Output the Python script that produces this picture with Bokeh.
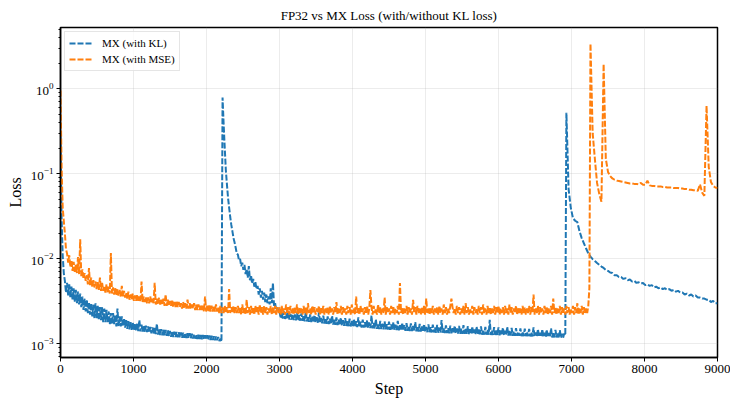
from bokeh.plotting import figure
from bokeh.models import Range1d, Legend, LegendItem, LogTicker, FixedTicker
from bokeh.embed import file_html
from bokeh.resources import INLINE

# logged steps: every 15 steps while noisy, every 30 steps after the last jump
kl_steps = list(range(0, 6916, 15)) + list(range(6930, 9001, 30))
mse_steps = list(range(0, 7246, 15)) + list(range(7260, 9001, 30))

# MX (with KL) loss
kl_loss = [
    0.30, 0.030, 0.011, 0.0068, 0.0055, 0.0040, 0.0052, 0.0037, 0.0050, 0.0035, 0.0047, 0.0033, 0.0045, 0.0031, 0.0043, 0.0030, 0.0041, 0.0029, 0.0039, 0.0027,
    0.0036, 0.0025, 0.0034, 0.0024, 0.0033, 0.0023, 0.0031, 0.0022, 0.0030, 0.0021, 0.0029, 0.0020, 0.0030, 0.0020, 0.0028, 0.0019, 0.0027, 0.0019, 0.0027, 0.0018,
    0.0026, 0.0018, 0.0025, 0.0018, 0.0024, 0.0017, 0.0023, 0.0017, 0.0023, 0.0017, 0.0022, 0.0016, 0.0026, 0.0016, 0.0021, 0.0016, 0.0021, 0.0016, 0.0020, 0.00155,
    0.0019, 0.00150, 0.00185, 0.00148, 0.00180, 0.00146, 0.00178, 0.00144, 0.00175, 0.00143, 0.00172, 0.00141, 0.00190, 0.00140, 0.00168, 0.00139, 0.00165, 0.00138, 0.00163, 0.00137,
    0.00160, 0.00135, 0.00158, 0.00133, 0.00156, 0.00131, 0.00154, 0.00130, 0.00172, 0.00128, 0.00150, 0.00127, 0.00149, 0.00126, 0.00147, 0.00125, 0.00146, 0.00124, 0.00145, 0.00123,
    0.00142, 0.00121, 0.00141, 0.00120, 0.00139, 0.00120, 0.00138, 0.00119, 0.00137, 0.00119, 0.00136, 0.00118, 0.00135, 0.00118, 0.00134, 0.00117, 0.00133, 0.00117, 0.00133, 0.00116,
    0.00131, 0.00115, 0.00130, 0.00115, 0.00129, 0.00114, 0.00128, 0.00114, 0.00127, 0.00113, 0.00127, 0.00113, 0.00126, 0.00112, 0.00126, 0.00112, 0.00125, 0.00111, 0.00124, 0.00111,
    0.00123, 0.00110, 0.00122, 0.00110, 0.00120, 0.00108, 0.00115, 0.00106, 0.79, 0.38, 0.20, 0.11, 0.075, 0.052, 0.040, 0.031, 0.025, 0.021, 0.0175, 0.0155,
    0.0135, 0.0115, 0.0112, 0.0096, 0.0100, 0.0082, 0.0090, 0.0074, 0.0085, 0.0066, 0.0076, 0.0060, 0.0082, 0.0056, 0.0064, 0.0051, 0.0058, 0.0047, 0.0053, 0.0044,
    0.0048, 0.0038, 0.0045, 0.0035, 0.0042, 0.0033, 0.0040, 0.0031, 0.0038, 0.0030, 0.0036, 0.0029, 0.0045, 0.0030, 0.0052, 0.0028, 0.0030, 0.0025, 0.0027, 0.0024,
    0.00245, 0.00200, 0.00236, 0.00198, 0.00240, 0.00196, 0.00228, 0.00195, 0.00236, 0.00193, 0.00225, 0.00192, 0.00250, 0.00190, 0.00222, 0.00189, 0.00230, 0.00188, 0.00218, 0.00187,
    0.00228, 0.00186, 0.00215, 0.00184, 0.00240, 0.00183, 0.00212, 0.00181, 0.00222, 0.00180, 0.00208, 0.00179, 0.00218, 0.00178, 0.00206, 0.00177, 0.00235, 0.00176, 0.00202, 0.00174,
    0.00214, 0.00173, 0.00200, 0.00172, 0.00210, 0.00171, 0.00198, 0.00170, 0.00215, 0.00168, 0.00195, 0.00167, 0.00205, 0.00166, 0.00192, 0.00165, 0.00202, 0.00164, 0.00190, 0.00163,
    0.00200, 0.00162, 0.00188, 0.00161, 0.00198, 0.00160, 0.00186, 0.00159, 0.00196, 0.00158, 0.00184, 0.00157, 0.00205, 0.00156, 0.00182, 0.00155, 0.00192, 0.00155, 0.00180, 0.00154,
    0.00190, 0.00154, 0.00178, 0.00153, 0.00215, 0.00152, 0.00176, 0.00151, 0.00195, 0.00150, 0.00174, 0.00149, 0.00186, 0.00149, 0.00172, 0.00148, 0.00184, 0.00148, 0.00170, 0.00147,
    0.00182, 0.00146, 0.00169, 0.00146, 0.00180, 0.00145, 0.00168, 0.00145, 0.00186, 0.00144, 0.00166, 0.00143, 0.00177, 0.00143, 0.00165, 0.00142, 0.00175, 0.00142, 0.00163, 0.00141,
    0.00174, 0.00141, 0.00162, 0.00140, 0.00180, 0.00140, 0.00161, 0.00139, 0.00172, 0.00139, 0.00160, 0.00138, 0.00170, 0.00138, 0.00158, 0.00137, 0.00169, 0.00137, 0.00157, 0.00136,
    0.00168, 0.00136, 0.00156, 0.00135, 0.00167, 0.00135, 0.00155, 0.00135, 0.00190, 0.00135, 0.00154, 0.00134, 0.00165, 0.00134, 0.00153, 0.00133, 0.00164, 0.00133, 0.00152, 0.00133,
    0.00163, 0.00132, 0.00151, 0.00132, 0.00162, 0.00131, 0.00150, 0.00131, 0.00166, 0.00131, 0.00149, 0.00131, 0.00161, 0.00130, 0.00148, 0.00130, 0.00160, 0.00130, 0.00147, 0.00130,
    0.00159, 0.00129, 0.00147, 0.00129, 0.00160, 0.00128, 0.00146, 0.00128, 0.00158, 0.00128, 0.00145, 0.00128, 0.00192, 0.00127, 0.00144, 0.00127, 0.00157, 0.00127, 0.00143, 0.00127,
    0.00156, 0.00126, 0.00143, 0.00126, 0.00155, 0.00126, 0.00142, 0.00126, 0.00158, 0.00125, 0.00141, 0.00125, 0.00154, 0.00124, 0.00140, 0.00124, 0.00153, 0.00124, 0.00139, 0.00124,
    0.00152, 0.00123, 0.00139, 0.00123, 0.00151, 0.00123, 0.00138, 0.00123, 0.00150, 0.00122, 0.00137, 0.00122, 0.00156, 0.00121, 0.00136, 0.00121, 0.00149, 0.00121, 0.00135, 0.00121,
    0.00148, 0.00120, 0.00135, 0.00120, 0.00147, 0.00120, 0.00134, 0.00120, 0.00152, 0.00119, 0.00133, 0.00119, 0.00146, 0.00119, 0.00132, 0.00119, 0.00145, 0.00118, 0.00131, 0.00118,
    0.00132, 0.00125,
    # every 30 steps from 6930
    0.52, 0.066, 0.040, 0.030, 0.028, 0.027, 0.021, 0.0175, 0.0152,
    0.0132, 0.0116, 0.0106, 0.0099, 0.0094, 0.0089, 0.0085, 0.0081, 0.0078, 0.0074,
    0.0072, 0.0069, 0.0068, 0.0064, 0.0064, 0.0061, 0.0061, 0.0058, 0.0059, 0.0056,
    0.0057, 0.0054, 0.0055, 0.0052, 0.0053, 0.0051, 0.0052, 0.0049, 0.0050, 0.0048,
    0.0049, 0.0046, 0.0047, 0.0045, 0.0046, 0.0044, 0.0045, 0.0043, 0.0044, 0.0042,
    0.0043, 0.0041, 0.0042, 0.0040, 0.0040, 0.0038, 0.0039, 0.0037, 0.0038, 0.0036,
    0.0037, 0.0035, 0.0035, 0.0034, 0.0034, 0.0033, 0.0033, 0.0031, 0.0032, 0.0030,
    0.0030,
]

# MX (with MSE) loss
mse_loss = [
    0.95, 0.12, 0.040, 0.028, 0.020, 0.013, 0.0115, 0.0090, 0.0110, 0.0080, 0.0097, 0.0072, 0.0092, 0.0070, 0.0085, 0.0068, 0.0105, 0.0066, 0.0170, 0.0062,
    0.0075, 0.0058, 0.0068, 0.0055, 0.0064, 0.0050, 0.0078, 0.0049, 0.0060, 0.0047, 0.0056, 0.0046, 0.0054, 0.0044, 0.0053, 0.0043, 0.0060, 0.0042, 0.0052, 0.0042,
    0.0048, 0.0040, 0.0050, 0.0040, 0.0047, 0.0039, 0.0117, 0.0039, 0.0046, 0.0038, 0.0045, 0.0037, 0.0044, 0.0037, 0.0043, 0.0036, 0.0048, 0.0036, 0.0042, 0.0035,
    0.0040, 0.0034, 0.0041, 0.0033, 0.0038, 0.0033, 0.0039, 0.0032, 0.0037, 0.0032, 0.0038, 0.0032, 0.0036, 0.0031, 0.0054, 0.0031, 0.0036, 0.0031, 0.0035, 0.0030,
    0.0035, 0.0030, 0.0036, 0.0030, 0.0034, 0.0030, 0.0052, 0.0029, 0.0034, 0.0029, 0.0035, 0.0029, 0.0033, 0.0029, 0.0034, 0.0028, 0.0038, 0.0028, 0.0033, 0.0028,
    0.0032, 0.0028, 0.0033, 0.0027, 0.0031, 0.0027, 0.0032, 0.0027, 0.0031, 0.0027, 0.0030, 0.0026, 0.0031, 0.0026, 0.0030, 0.0026, 0.0033, 0.0026, 0.0030, 0.0026,
    0.0029, 0.0026, 0.0030, 0.0025, 0.0029, 0.0025, 0.0029, 0.0025, 0.0028, 0.0025, 0.0029, 0.0024, 0.0036, 0.0024, 0.0028, 0.0024, 0.0029, 0.0024, 0.0028, 0.0024,
    0.0028, 0.0024, 0.0029, 0.0024, 0.0027, 0.0023, 0.0028, 0.0023, 0.0027, 0.0023, 0.0028, 0.0023, 0.0027, 0.0023, 0.0044, 0.0023, 0.0027, 0.0023, 0.0028, 0.0023,
    0.0027, 0.0023, 0.0028, 0.0023, 0.0027, 0.0022, 0.0029, 0.0023, 0.0027, 0.0022, 0.0033, 0.0023, 0.0027, 0.0022, 0.0028, 0.0023, 0.0027, 0.0022, 0.0028, 0.0023,
    0.0027, 0.0022, 0.0029, 0.0023, 0.0027, 0.0022, 0.0028, 0.0023, 0.0027, 0.0022, 0.0026, 0.0023, 0.0028, 0.0022, 0.0027, 0.0023, 0.0028, 0.0022, 0.0027, 0.0023,
    0.0027, 0.0022, 0.0028, 0.0023, 0.0026, 0.0022, 0.0029, 0.0023, 0.0027, 0.0022, 0.0028, 0.0023, 0.0026, 0.0022, 0.0027, 0.0023, 0.0029, 0.0022, 0.0027, 0.0023,
    0.0026, 0.0022, 0.0028, 0.0023, 0.0027, 0.0022, 0.0030, 0.0023, 0.0026, 0.0022, 0.0028, 0.0023, 0.0027, 0.0022, 0.0026, 0.0023, 0.0028, 0.0022, 0.0027, 0.0023,
    0.0028, 0.0022, 0.0026, 0.0023, 0.0027, 0.0022, 0.0028, 0.0023, 0.0026, 0.0022, 0.0027, 0.0023, 0.0031, 0.0022, 0.0026, 0.0023, 0.0028, 0.0022, 0.0027, 0.0023,
    0.0026, 0.0022, 0.0028, 0.0023, 0.0027, 0.0022, 0.0029, 0.0023, 0.0026, 0.0022, 0.0036, 0.0023, 0.0027, 0.0022, 0.0028, 0.0023, 0.0026, 0.0022, 0.0027, 0.0023,
    0.0028, 0.0022, 0.0026, 0.0043, 0.0027, 0.0022, 0.0028, 0.0023, 0.0026, 0.0022, 0.0029, 0.0023, 0.0027, 0.0022, 0.0026, 0.0023, 0.0035, 0.0022, 0.0027, 0.0023,
    0.0026, 0.0022, 0.0028, 0.0023, 0.0027, 0.0022, 0.0026, 0.0023, 0.0028, 0.0022, 0.0052, 0.0023, 0.0027, 0.0022, 0.0026, 0.0023, 0.0028, 0.0022, 0.0027, 0.0023,
    0.0026, 0.0022, 0.0033, 0.0023, 0.0027, 0.0022, 0.0028, 0.0023, 0.0026, 0.0022, 0.0027, 0.0023, 0.0028, 0.0022, 0.0034, 0.0023, 0.0026, 0.0022, 0.0027, 0.0023,
    0.0028, 0.0022, 0.0026, 0.0023, 0.0027, 0.0022, 0.0028, 0.0023, 0.0026, 0.0022, 0.0029, 0.0023, 0.0027, 0.0022, 0.0026, 0.0023, 0.0028, 0.0034, 0.0027, 0.0023,
    0.0026, 0.0022, 0.0028, 0.0023, 0.0027, 0.0022, 0.0026, 0.0023, 0.0028, 0.0022, 0.0030, 0.0023, 0.0027, 0.0022, 0.0026, 0.0023, 0.0028, 0.0022, 0.0027, 0.0023,
    0.0026, 0.0022, 0.0028, 0.0023, 0.0027, 0.0022, 0.0029, 0.0023, 0.0026, 0.0022, 0.0028, 0.0023, 0.0027, 0.0022, 0.0026, 0.0023, 0.0028, 0.0022, 0.0027, 0.0023,
    0.0028, 0.0022, 0.0026, 0.0023, 0.0027, 0.0022, 0.0028, 0.0023, 0.0026, 0.0022, 0.0029, 0.0023, 0.0027, 0.0022, 0.0026, 0.0023, 0.0028, 0.0022, 0.0027, 0.0023,
    0.0026, 0.0022, 0.0028, 0.0023, 0.0027, 0.0022, 0.0026, 0.0023, 0.0028, 0.0022, 0.0027, 0.0023, 0.0038, 0.0022, 0.0026, 0.0023, 0.0028, 0.0022, 0.0027, 0.0023,
    0.0026, 0.0022, 0.0028, 0.0023, 0.0027, 0.0022, 0.0026, 0.0023, 0.0028, 0.0022, 0.0034, 0.0023, 0.0027, 0.0022, 0.0026, 0.0023, 0.0028, 0.0022, 0.0027, 0.0023,
    0.0026, 0.0022, 0.0028, 0.0023, 0.0027, 0.0022, 0.0026, 0.0023, 0.0028, 0.0022, 0.0027, 0.0023, 0.0030, 0.0022, 0.0026, 0.0023, 0.0028, 0.0022, 0.0027, 0.0023,
    0.0026, 0.0023, 0.0028, 0.0045,
    # every 30 steps from 7260
    3.4, 0.30, 0.15, 0.078, 0.058, 0.047, 1.95, 0.15,
    0.105, 0.094, 0.088, 0.085, 0.083, 0.082, 0.081, 0.080, 0.079, 0.078,
    0.077, 0.077, 0.076, 0.076, 0.075, 0.078, 0.074, 0.074, 0.083, 0.073,
    0.072, 0.072, 0.071, 0.071, 0.071, 0.070, 0.070, 0.069, 0.069, 0.069,
    0.068, 0.068, 0.068, 0.067, 0.067, 0.066, 0.066, 0.065, 0.065, 0.064,
    0.064, 0.063, 0.075, 0.060, 0.055, 0.63, 0.12, 0.080, 0.072, 0.069,
    0.068,
]

assert len(kl_steps) == len(kl_loss), (len(kl_steps), len(kl_loss))
assert len(mse_steps) == len(mse_loss), (len(mse_steps), len(mse_loss))

x_ticks = [0, 1000, 2000, 3000, 4000, 5000, 6000, 7000, 8000, 9000]

SERIF = "Liberation Serif"
BLUE = "#1f77b4"
ORANGE = "#ff7f0e"

p = figure(
    width=730, height=399, y_axis_type="log",
    x_range=Range1d(0, 9000), y_range=Range1d(6.9e-4, 5.25),
    output_backend="svg", toolbar_location=None,
    min_border_left=60, min_border_right=13, min_border_top=24, min_border_bottom=41,
    title="FP32 vs MX Loss (with/without KL loss)",
)
p.background_fill_color = "white"
p.border_fill_color = "white"
p.outline_line_color = "black"
p.outline_line_width = 1.5

p.title.align = "center"
p.title.text_font = SERIF
p.title.text_font_size = "13px"
p.title.text_font_style = "normal"
p.title.text_color = "black"

r_kl = p.line(kl_steps, kl_loss, color=BLUE, line_width=2, line_dash="6 2")
r_mse = p.line(mse_steps, mse_loss, color=ORANGE, line_width=2, line_dash="6 2")

p.xaxis.ticker = FixedTicker(ticks=x_ticks)
p.yaxis.ticker = LogTicker(num_minor_ticks=10)
for ax in (p.xaxis[0], p.yaxis[0]):
    ax.major_label_text_font = SERIF
    ax.major_label_text_font_size = "13px"
    ax.major_label_text_color = "black"
    ax.axis_label_text_font = SERIF
    ax.axis_label_text_font_size = "16px"
    ax.axis_label_text_font_style = "normal"
    ax.axis_label_text_color = "black"
    ax.axis_line_color = "black"
    ax.axis_line_width = 1.5
    ax.major_tick_line_color = "black"
    ax.major_tick_out = 4
    ax.major_tick_in = 0
    ax.minor_tick_out = 2
    ax.minor_tick_in = 0
    ax.axis_label_standoff = 4
    ax.major_label_standoff = 3
p.xaxis.axis_label = "Step"
p.yaxis.axis_label = "Loss"
p.xaxis.minor_tick_line_color = None
p.yaxis.minor_tick_line_color = "black"

p.xgrid.ticker = FixedTicker(ticks=x_ticks)
p.grid.grid_line_color = "#b0b0b0"
p.grid.grid_line_alpha = 0.3
p.grid.grid_line_width = 0.8
p.ygrid.minor_grid_line_color = None

legend = Legend(items=[
    LegendItem(label="MX (with KL)", renderers=[r_kl]),
    LegendItem(label="MX (with MSE)", renderers=[r_mse]),
], location="top_left")
legend.label_text_font = SERIF
legend.label_text_font_size = "11px"
legend.label_text_color = "black"
legend.border_line_color = "#cccccc"
legend.border_line_width = 1
legend.background_fill_alpha = 0.8
legend.margin = 4
legend.padding = 4
legend.spacing = 2
legend.glyph_width = 24
legend.glyph_height = 14
legend.label_standoff = 9
legend.label_height = 14
p.add_layout(legend)

open("out.html", "w").write(file_html(p, INLINE))
